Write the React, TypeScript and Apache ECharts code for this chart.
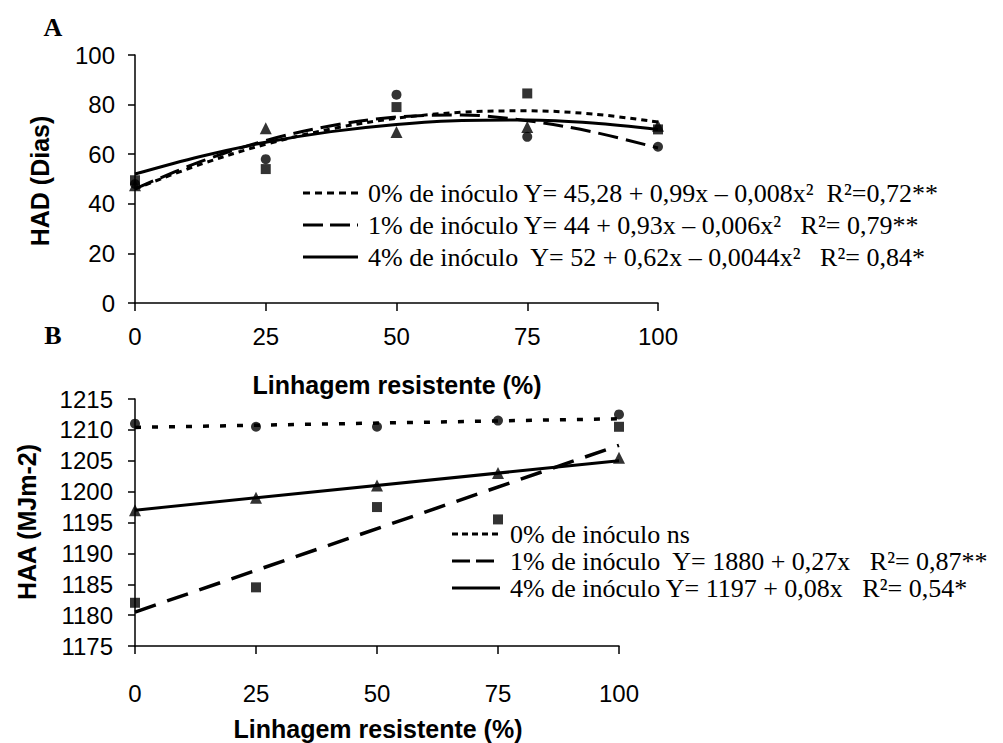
import React, { useEffect, useRef } from "react";
import * as echarts from "echarts";

// ---------- data ----------
const xLevels = [0, 25, 50, 75, 100];
const xTicksLabel = ["0", "25", "50", "75", "100"];

// Panel A: HAD (Dias)
const hadInoc0 = [48, 58, 84, 67, 63]; // circles
const hadInoc1 = [49.5, 54, 79, 84.5, 70]; // squares
const hadInoc4 = [47.5, 70.5, 69, 71, 71.5]; // triangles

// trend lines
const trendX = [0, 12.5, 25, 37.5, 50, 62.5, 75, 87.5, 100];
const hadTrend0 = [46, 55.9, 64, 70.2, 74.5, 76.9, 77.5, 76.2, 73];
const hadTrend1 = [46, 57, 65.5, 71.5, 75, 75.8, 73.5, 69, 62.5];
const hadTrend4 = [52, 59.1, 64.8, 69.1, 72, 73.6, 73.8, 72.6, 70];

// Panel B: HAA (MJm-2)
const haaInoc0 = [1211, 1210.5, 1210.5, 1211.5, 1212.5];
const haaInoc1 = [1182, 1184.5, 1197.5, 1195.5, 1210.5];
const haaInoc4 = [1197, 1199, 1201, 1203, 1205.5];

const lineX = [0, 100];
const haaTrend0 = [1210.4, 1211.8];
const haaTrend1 = [1180.5, 1207.5];
const haaTrend4 = [1197, 1205];

const legendA = [
  "0% de inóculo Y= 45,28 + 0,99x – 0,008x²  R²=0,72**",
  "1% de inóculo Y= 44 + 0,93x – 0,006x²   R²= 0,79**",
  "4% de inóculo  Y= 52 + 0,62x – 0,0044x²   R²= 0,84*",
];
const legendB = [
  "0% de inóculo ns",
  "1% de inóculo  Y= 1880 + 0,27x   R²= 0,87**",
  "4% de inóculo Y= 1197 + 0,08x   R²= 0,54*",
];

const SANS = "'Liberation Sans', Arial, sans-serif";
const SERIF = "'Liberation Serif', 'Times New Roman', serif";

const pairs = (xs: number[], ys: number[]) => xs.map((x, i) => [x, ys[i]]);

function axisX(gridIndex: number, margin: number) {
  return {
    gridIndex,
    type: "value",
    min: 0,
    max: 100,
    interval: 25,
    axisLine: { show: true, onZero: false, lineStyle: { color: "#000", width: 1.5 } },
    axisTick: { show: true, length: 8, lineStyle: { color: "#000", width: 1.5 } },
    axisLabel: {
      fontSize: 24,
      color: "#000",
      margin,
      fontFamily: SANS,
      formatter: (v: number) => xTicksLabel[xLevels.indexOf(v)] ?? String(v),
    },
    splitLine: { show: false },
  };
}

function axisY(gridIndex: number, min: number, max: number, interval: number, margin: number) {
  return {
    gridIndex,
    type: "value",
    min,
    max,
    interval,
    axisLine: { show: true, onZero: false, lineStyle: { color: "#000", width: 1.5 } },
    axisTick: { show: true, length: 7, lineStyle: { color: "#000", width: 1.5 } },
    axisLabel: {
      fontSize: 24,
      color: "#000",
      margin,
      fontFamily: SANS,
      formatter: (v: number) => String(v),
    },
    splitLine: { show: false },
  };
}

function lineSeries(idx: number, xs: number[], ys: number[], type: any, width: number) {
  return {
    type: "line",
    xAxisIndex: idx,
    yAxisIndex: idx,
    data: pairs(xs, ys),
    smooth: xs.length > 2 ? 0.35 : false,
    showSymbol: false,
    symbol: "none",
    lineStyle: { color: "#000", width, type },
    z: 2,
  };
}

function scatterSeries(idx: number, ys: number[], symbol: string, size: number) {
  return {
    type: "scatter",
    xAxisIndex: idx,
    yAxisIndex: idx,
    data: pairs(xLevels, ys),
    symbol,
    symbolSize: size,
    itemStyle: { color: "#000" },
    z: 3,
  };
}

function legendItems(
  texts: string[],
  ys: number[],
  x1: number,
  x2: number,
  textX: number,
  dashes: any[]
) {
  const out: any[] = [];
  texts.forEach((t, i) => {
    out.push({
      type: "line",
      shape: { x1, y1: ys[i], x2, y2: ys[i] },
      style: { stroke: "#000", lineWidth: 3, lineDash: dashes[i] },
    });
    out.push({
      type: "text",
      x: textX,
      y: ys[i],
      style: {
        text: t,
        font: `26px ${SERIF}`,
        fill: "#000",
        align: "left",
        textAlign: "left",
        verticalAlign: "middle",
        textVerticalAlign: "middle",
      },
    });
  });
  return out;
}

function label(text: string, x: number, y: number, font: string, rotation = 0) {
  return {
    type: "text",
    x,
    y,
    rotation,
    style: {
      text,
      font,
      fill: "#000",
      align: "center",
      textAlign: "center",
      verticalAlign: "middle",
      textVerticalAlign: "middle",
    },
  };
}

export default function App() {
  const ref = useRef<HTMLDivElement>(null);
  useEffect(() => {
    if (!ref.current) return;
    const chart = echarts.init(ref.current, undefined, { renderer: "svg" });
    const option: any = {
      animation: false,
      backgroundColor: "#fff",
      grid: [
        { left: 135, top: 55, width: 523, height: 248 },
        { left: 135, top: 399, width: 484, height: 247 },
      ],
      xAxis: [axisX(0, 21), axisX(1, 35)],
      yAxis: [axisY(0, 0, 100, 20, 20), axisY(1, 1175, 1215, 5, 22)],
      series: [
        lineSeries(0, trendX, hadTrend0, [6, 5], 3),
        lineSeries(0, trendX, hadTrend1, [20, 8], 3),
        lineSeries(0, trendX, hadTrend4, "solid", 3),
        scatterSeries(0, hadInoc0, "circle", 10),
        scatterSeries(0, hadInoc1, "rect", 10),
        scatterSeries(0, hadInoc4, "triangle", 12),
        lineSeries(1, lineX, haaTrend0, [6, 11], 3.5),
        lineSeries(1, lineX, haaTrend1, [22, 12], 3.5),
        lineSeries(1, lineX, haaTrend4, "solid", 3),
        scatterSeries(1, haaInoc0, "circle", 10),
        scatterSeries(1, haaInoc1, "rect", 10),
        scatterSeries(1, haaInoc4, "triangle", 12),
      ],
      graphic: [
        label("A", 53, 27, `bold 26px ${SERIF}`),
        label("B", 53, 335, `bold 26px ${SERIF}`),
        label("HAD (Dias)", 40, 181, `bold 25px ${SANS}`, Math.PI / 2),
        label("HAA (MJm-2)", 27, 522, `bold 25px ${SANS}`, Math.PI / 2),
        label("Linhagem resistente (%)", 397, 385, `bold 25px ${SANS}`),
        label("Linhagem resistente (%)", 378, 729, `bold 25px ${SANS}`),
        ...legendItems(legendA, [193, 225, 257], 303, 358, 368, [[7, 5], [20, 7], null]),
        ...legendItems(legendB, [534, 561, 588], 452, 500, 510, [[6, 4], [18, 6], null]),
      ],
    };
    chart.setOption(option);
    return () => chart.dispose();
  }, []);
  return (
    <div
      ref={ref}
      style={{ position: "fixed", left: 0, top: 0, width: 1003, height: 743, background: "#fff" }}
    />
  );
}
